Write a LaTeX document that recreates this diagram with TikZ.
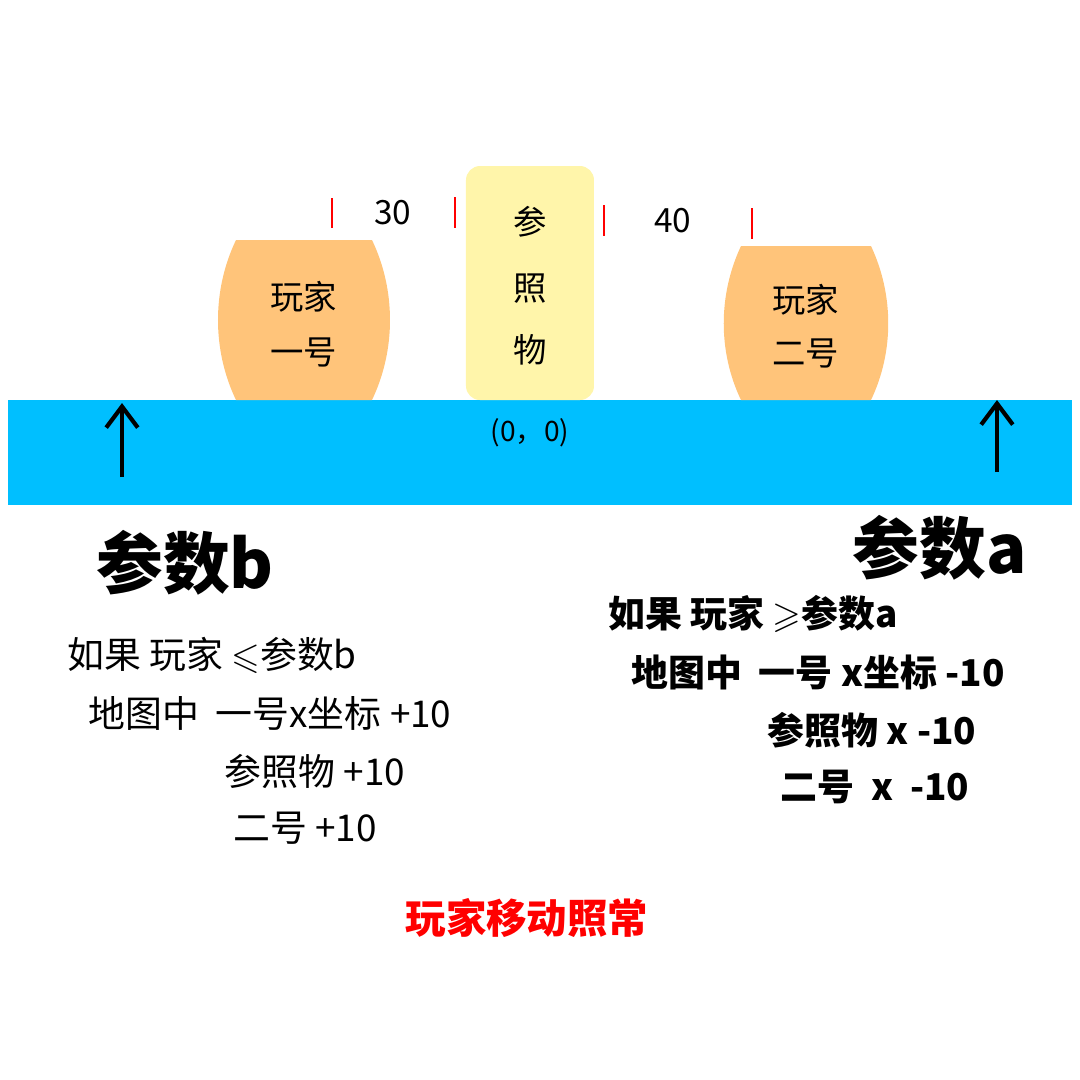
\documentclass[tikz,border=0pt]{standalone}
\usepackage{amssymb}
\usepackage{fontspec}
\setmainfont{Noto Sans CJK SC}
\usetikzlibrary{arrows.meta}
\definecolor{water}{RGB}{0,191,255}
\definecolor{barrel}{RGB}{255,196,122}
\definecolor{refbox}{RGB}{255,245,170}
\tikzset{
  lbl/.style={font=\fontsize{9.5pt}{11pt}\selectfont, inner sep=0pt},
  rule/.style={font=\fontsize{10.5pt}{12pt}\selectfont, inner sep=0pt},
  rulebold/.style={font=\fontsize{10.5pt}{12pt}\selectfont\bfseries, inner sep=0pt},
  big/.style={font=\fontsize{19pt}{22pt}\selectfont\bfseries, inner sep=0pt},
  tick/.style={red, line width=0.6pt},
}
\begin{document}
\begin{tikzpicture}[x=0.1mm, y=-0.1mm]
    \useasboundingbox (0,0) rectangle (1080,1080);
    % ground bar
    \fill[water] (8,400) rectangle (1072,505);
    % players and reference
    \fill[barrel] (236,240) -- (372,240) .. controls (396,290) and (396,350) .. (372,400)
        -- (236,400) .. controls (212,350) and (212,290) .. (236,240);
    \fill[barrel] (741,246) -- (871,246) .. controls (894,295) and (894,352) .. (871,400)
        -- (741,400) .. controls (718,352) and (718,295) .. (741,246);
    \fill[refbox, rounded corners=4pt] (466,166) rectangle (594,400);
    \node[lbl] (p1a) at (304,297) {玩家};
    \node[lbl] (p1b) at (304,352) {一号};
    \node[lbl] (p2a) at (806,300) {玩家};
    \node[lbl] (p2b) at (806,353) {二号};
    \node[lbl] (r1) at (530,222) {参};
    \node[lbl] (r2) at (530,289) {照};
    \node[lbl] (r3) at (530,350) {物};
    % distance marks
    \draw[tick] (332,198) -- (332,228);
    \draw[tick] (455,197) -- (455,228);
    \draw[tick] (604,205) -- (604,236);
    \draw[tick] (752,208) -- (752,239);
    \node[lbl] (d30) at (393,213) {30};
    \node[lbl] (d40) at (673,221) {40};
    \node[font=\fontsize{8pt}{10pt}\selectfont, inner sep=0pt] (origin) at (530,433) {(0，0)};
    % arrows
    \coordinate (bfoot) at (122,477);
    \coordinate (btop) at (122,403);
    \coordinate (afoot) at (997,472);
    \coordinate (atop) at (997,400);
    \draw[line width=1.2pt, -{Straight Barb[length=6pt,width=9pt]}] (bfoot) -- (btop);
    \draw[line width=1.2pt, -{Straight Barb[length=6pt,width=9pt]}] (afoot) -- (atop);
    % left rules
    \node[big] (parb) at (185,563) {参数b};
    \node[rule] (lb1) at (212,655) {如果 玩家 $\leqslant$参数b};
    \node[rule] (lb2) at (270,713) {地图中\ \ 一号x坐标 +10};
    \node[rule] (lb3) at (315,771) {参照物 +10};
    \node[rule] (lb4) at (305,828) {二号 +10};
    % right rules
    \node[big] (para) at (940,548) {参数a};
    \node[rulebold] (ra1) at (753,614) {如果 玩家 $\geqslant$参数a};
    \node[rulebold] (ra2) at (818,672) {地图中\ \ 一号 x坐标 -10};
    \node[rulebold] (ra3) at (872,730) {参照物 x -10};
    \node[rulebold] (ra4) at (875,787) {二号\ \ x\ \ -10};
    \node[rulebold, red, font=\fontsize{11.5pt}{13pt}\selectfont\bfseries] (note) at (527,918) {玩家移动照常};
\end{tikzpicture}
\end{document}
